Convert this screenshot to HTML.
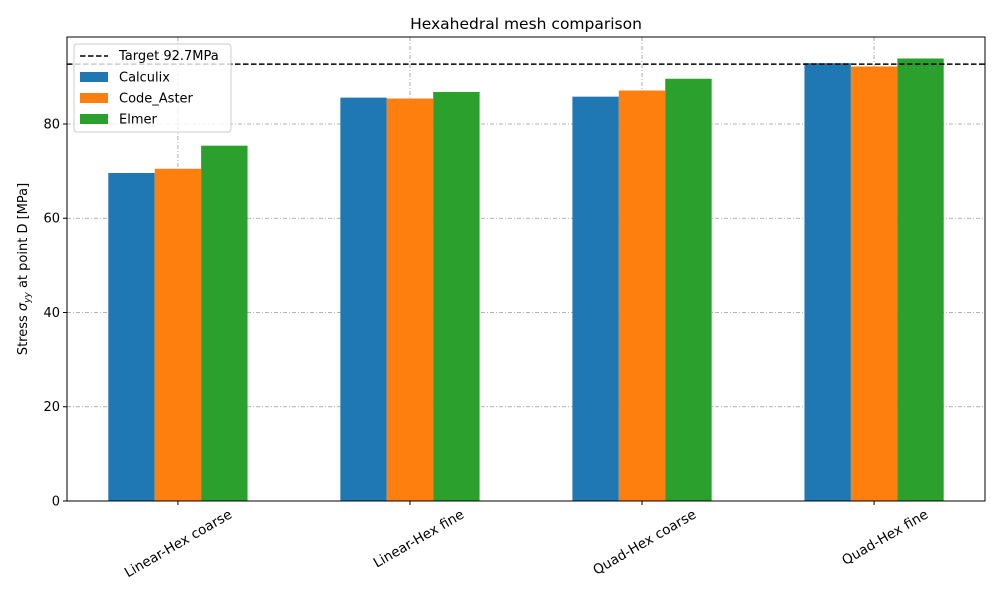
<!DOCTYPE html>
<html><head><meta charset="utf-8"><style>
body{margin:0;background:#fff;font-family:"Liberation Sans","DejaVu Sans",sans-serif}
svg text{font-family:"DejaVu Sans","Liberation Sans",sans-serif}
</style></head><body>
<svg id="chart" width="1000" height="600" xmlns="http://www.w3.org/2000/svg"></svg>
<script>
const categories=["Linear-Hex coarse","Linear-Hex fine","Quad-Hex coarse","Quad-Hex fine"];
const seriesNames=["Calculix","Code_Aster","Elmer"];
const calculix=[69.6,85.6,85.8,92.9];
const codeAster=[70.5,85.4,87.1,92.2];
const elmer=[75.4,86.8,89.6,93.9];
const target=92.7;
const yTicks=[0,20,40,60,80];
const colors=["#1f77b4","#ff7f0e","#2ca02c"];
const series=[calculix,codeAster,elmer];
const L=67,R=985,T=37,B=501;
const xmin=-0.478,xmax=3.478,ymax=98.46;
const X=v=>L+(v-xmin)/(xmax-xmin)*(R-L);
const Y=v=>B-v/ymax*(B-T);
const svg=document.getElementById('chart');
const NS="http://www.w3.org/2000/svg";
function mk(tag,attrs,parent){const e=document.createElementNS(NS,tag);for(const k in attrs)e.setAttribute(k,attrs[k]);(parent||svg).appendChild(e);return e;}
yTicks.forEach(t=>{if(t>0){const g=mk('line',{x1:L,x2:R,y1:Y(t),y2:Y(t),stroke:'#999','stroke-width':0.8,'stroke-dasharray':'4,2,1,2'});

}});
categories.forEach((c,i)=>{const g=mk('line',{x1:X(i),x2:X(i),y1:T,y2:B,stroke:'#999','stroke-width':0.8,'stroke-dasharray':'4,2,1,2'});

});
const bw=0.2;
series.forEach((s,si)=>{s.forEach((v,i)=>{const x0=X(i+(si-1)*bw-bw/2),x1=X(i+(si-1)*bw+bw/2);
const r=mk('rect',{x:x0,y:Y(v),width:x1-x0,height:B-Y(v),fill:colors[si]});

});});
const tl=mk('line',{x1:L,x2:R,y1:Y(target),y2:Y(target),stroke:'#000','stroke-width':1.5,'stroke-dasharray':'5.5,2.5'});


const fr=mk('rect',{x:L,y:T,width:R-L,height:B-T,fill:'none',stroke:'#000','stroke-width':1});


yTicks.forEach(t=>{mk('line',{x1:L-4,x2:L,y1:Y(t),y2:Y(t),stroke:'#000'});
const tx=mk('text',{x:L-7,y:Y(t)+4.5,'text-anchor':'end','font-size':13});tx.textContent=t;

});
categories.forEach((c,i)=>{mk('line',{x1:X(i),x2:X(i),y1:B,y2:B+4,stroke:'#000'});
const ax=X(i)+55,ay=B+16;
const tx=mk('text',{x:ax,y:ay,'text-anchor':'end','font-size':13.5,transform:`rotate(-30 ${ax} ${ay})`});tx.textContent=c;

});
const ti=mk('text',{x:(L+R)/2,y:29,'text-anchor':'middle','font-size':15.5});ti.textContent='Hexahedral mesh comparison';


const yl=mk('text',{x:0,y:0,'text-anchor':'middle','font-size':13,transform:`translate(27 ${(T+B)/2}) rotate(-90)`});
yl.innerHTML='Stress <tspan font-style="italic">σ</tspan><tspan font-size="9" dy="3" font-style="italic">yy</tspan><tspan dy="-3"> at point D [MPa]</tspan>';


const lg=mk('g',{});


mk('rect',{x:74,y:44,width:157,height:88,rx:3,fill:'#fff','fill-opacity':0.8,stroke:'#ccc'},lg);
mk('line',{x1:80,x2:108,y1:56,y2:56,stroke:'#000','stroke-width':1.5,'stroke-dasharray':'5.5,2.5'},lg);
let t0=mk('text',{x:119,y:60,'font-size':13},lg);t0.textContent='Target 92.7MPa';
seriesNames.forEach((n,i)=>{const yy=77+i*21;
const sw=mk('rect',{x:80,y:yy-5,width:28,height:10,fill:colors[i]},lg);


const t=mk('text',{x:119,y:yy+4.5,'font-size':13},lg);t.textContent=n;

});
</script>
</body></html>
